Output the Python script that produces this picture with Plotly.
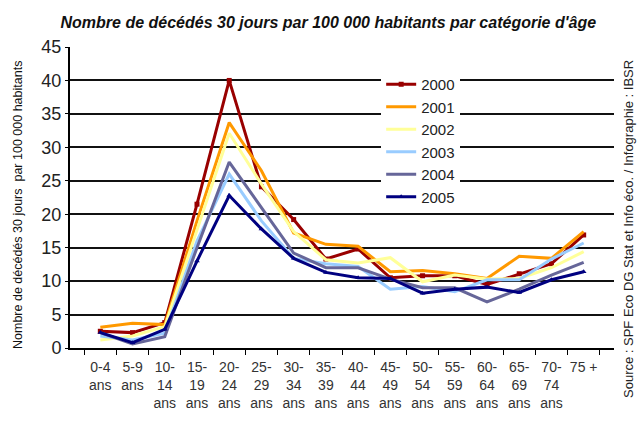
import plotly.graph_objects as go

categories = ["0-4<br>ans", "5-9<br>ans", "10-<br>14<br>ans", "15-<br>19<br>ans", "20-<br>24<br>ans",
              "25-<br>29<br>ans", "30-<br>34<br>ans", "35-<br>39<br>ans", "40-<br>44<br>ans",
              "45-<br>49<br>ans", "50-<br>54<br>ans", "55-<br>59<br>ans", "60-<br>64<br>ans",
              "65-<br>69<br>ans", "70-<br>74<br>ans", "75 +"]

y2000 = [2.5, 2.3, 3.8, 21.5, 40.0, 24.1, 19.2, 13.3, 14.8, 10.5, 10.8, 10.8, 9.5, 11.1, 12.6, 16.9]
y2001 = [3.1, 3.7, 3.5, 19.0, 33.7, 26.5, 17.2, 15.5, 15.2, 11.4, 11.6, 11.1, 10.4, 13.7, 13.4, 17.4]
y2002 = [1.2, 1.8, 3.2, 17.5, 32.1, 24.5, 17.4, 13.2, 12.7, 13.5, 9.9, 10.9, 10.3, 10.4, 12.0, 14.4]
y2003 = [1.8, 1.2, 2.2, 16.0, 26.0, 19.0, 13.4, 12.6, 12.2, 8.8, 9.2, 8.4, 10.2, 10.2, 13.3, 15.7]
y2004 = [2.3, 0.6, 1.7, 15.0, 27.8, 21.0, 14.2, 12.0, 12.0, 10.3, 9.0, 9.0, 6.9, 8.8, 10.9, 12.8]
y2005 = [2.3, 0.8, 2.8, 13.0, 22.8, 17.8, 13.4, 11.3, 10.5, 10.4, 8.2, 8.8, 9.1, 8.3, 10.2, 11.4]

years = ["2000", "2001", "2002", "2003", "2004", "2005"]
series = [y2000, y2001, y2002, y2003, y2004, y2005]
colors = ["#990000", "#FF9900", "#FFFF99", "#99CCFF", "#666699", "#000080"]
markers = ["square", None, None, None, None, "triangle-up"]

fig = go.Figure()
for name, vals, col, mk in zip(years, series, colors, markers):
    fig.add_trace(go.Scatter(
        x=categories, y=vals, name=name,
        mode="lines+markers" if mk else "lines",
        line=dict(color=col, width=3),
        marker=dict(symbol=mk, size=5, color=col) if mk else None,
    ))

fig.update_layout(
    width=640, height=423,
    margin=dict(l=70, r=26, t=47, b=75),
    paper_bgcolor="white", plot_bgcolor="white",
    font=dict(family="Liberation Sans, Arial, sans-serif", color="#222"),
    title=dict(text="<b><i>Nombre de décédés 30 jours par 100 000 habitants par catégorie d'âge</i></b>",
               x=0.513, xanchor="center", y=1 - 22 / 423, yanchor="middle",
               font=dict(size=16, color="#111")),
    showlegend=True,
    legend=dict(x=0.572, y=0.93, xanchor="left", yanchor="top",
                bgcolor="white", borderwidth=0, font=dict(size=15, color="#222"),
                itemwidth=30, tracegroupgap=0),
    xaxis=dict(type="category", showgrid=False, showline=True, linecolor="black", linewidth=2,
               ticks="outside", tickson="boundaries", ticklen=5, tickcolor="black",
               tickfont=dict(size=14, color="#333"), tickangle=0, ticklabelstandoff=5),
    yaxis=dict(range=[0, 45], dtick=5, showgrid=True, gridcolor="#111", gridwidth=1.5,
               showline=True, linecolor="black", linewidth=2, ticks="outside", ticklen=3,
               tickcolor="black", tickfont=dict(size=18, color="#222"), zeroline=False),
)

fig.add_annotation(text="Nombre de décédés 30 jours  par 100 000 habitants",
                   xref="paper", yref="paper", x=(18 - 70) / 544, y=(348 - 205) / 301,
                   textangle=-90, showarrow=False, font=dict(size=12.5, color="#111"),
                   xanchor="center", yanchor="middle")

fig.add_annotation(text="Source : SPF Eco DG Stat et Info éco. / Infographie : IBSR",
                   xref="paper", yref="paper", x=(628 - 70) / 544, y=(348 - 229) / 301,
                   textangle=-90, showarrow=False, font=dict(size=13, color="#222"),
                   xanchor="center", yanchor="middle")

fig.write_html("out.html")
